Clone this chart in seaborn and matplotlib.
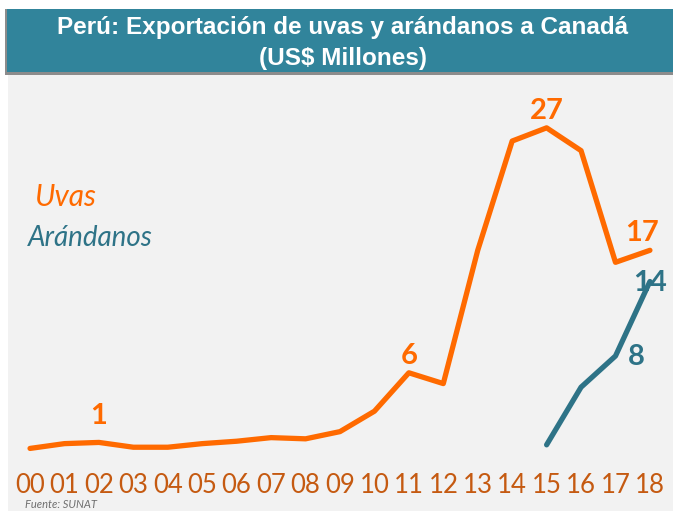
import numpy as np
import pandas as pd
import matplotlib
matplotlib.use("Agg")
import matplotlib.pyplot as plt
from matplotlib.patches import Rectangle
import seaborn as sns

# data (US$ millones)
years = ["00", "01", "02", "03", "04", "05", "06", "07", "08", "09",
         "10", "11", "12", "13", "14", "15", "16", "17", "18"]
uvas = [0.3, 0.7, 0.8, 0.4, 0.4, 0.7, 0.9, 1.2, 1.1, 1.7,
        3.4, 6.6, 5.7, 16.8, 25.9, 27.0, 25.1, 15.8, 16.8]
arandanos_years = ["15", "16", "17", "18"]
arandanos = [0.6, 5.4, 8.0, 14.2]

# point labels
uvas_labels = {"02": "1", "11": "6", "15": "27", "18": "17"}
aran_labels = {"17": "8", "18": "14"}

ORANGE = "#FF6A00"
TEAL = "#2E7387"
BAR = "#31849B"
TICK = "#C55A11"

sns.set_theme(style="white")
plt.rcParams["font.family"] = ["Lato", "DejaVu Sans"]

W, H = 673, 511
fig = plt.figure(figsize=(W / 100, H / 100), dpi=100, facecolor="white")

# gray panel (behind the axes)
fig.patches.append(Rectangle((8 / W, 0), (W - 8) / W, (H - 75) / H,
                             transform=fig.transFigure, facecolor="#F2F2F2",
                             edgecolor="none", zorder=-5))
# title bar with shadow
fig.patches.append(Rectangle((5 / W, (H - 75) / H), (W - 5) / W, 66 / H,
                             transform=fig.transFigure, facecolor="#8C8C8C",
                             edgecolor="none", zorder=1))
fig.patches.append(Rectangle((7 / W, (H - 72) / H), (W - 7) / W, 63 / H,
                             transform=fig.transFigure, facecolor=BAR,
                             edgecolor="none", zorder=2))
title_font = ["Liberation Sans", "DejaVu Sans"]
fig.text(343 / W, 1 - 27 / H, "Perú: Exportación de uvas y arándanos a Canadá",
         ha="center", va="center", color="white", fontsize=17.5,
         fontweight="bold", family=title_font, zorder=3)
fig.text(343 / W, 1 - 58 / H, "(US$ Millones)",
         ha="center", va="center", color="white", fontsize=17.5,
         fontweight="bold", family=title_font, zorder=3)

ax = fig.add_axes([8 / W, (H - 465) / H, (W - 8) / W, (465 - 75) / H])
ax.set_facecolor("none")

df_u = pd.DataFrame({"x": np.arange(len(years)), "v": uvas})
idx_a = [years.index(y) for y in arandanos_years]
df_a = pd.DataFrame({"x": idx_a, "v": arandanos})

sns.lineplot(data=df_u, x="x", y="v", ax=ax, color=ORANGE, linewidth=3.8,
             solid_capstyle="round")
sns.lineplot(data=df_a, x="x", y="v", ax=ax, color=TEAL, linewidth=3.8,
             solid_capstyle="round")

ax.set_xlim(-0.64, 18.67)
ax.set_ylim(-1.08, 31.4)
ax.set_xticks(np.arange(len(years)))
ax.set_xticklabels(years)
ax.set_yticks([])
ax.set_xlabel("")
ax.set_ylabel("")
ax.tick_params(axis="x", length=0, pad=6, labelsize=18.5, labelcolor=TICK)
for s in ax.spines.values():
    s.set_visible(False)

for yr, txt in uvas_labels.items():
    i = years.index(yr)
    dx = -6 if yr == "18" else 0
    dy = 10 if yr == "02" else 3
    ax.annotate(txt, (i, uvas[i]), xytext=(dx, dy), textcoords="offset points",
                ha="center", va="bottom", color=ORANGE, fontsize=21,
                fontweight="bold")
for yr, txt in aran_labels.items():
    i = years.index(yr)
    j = arandanos_years.index(yr)
    off = (0, -1) if yr == "18" else (15, -1)
    ax.annotate(txt, (i, arandanos[j]), xytext=off, textcoords="offset points",
                ha="center", va="center", color=TEAL, fontsize=21,
                fontweight="bold")

fig.text(35 / W, 1 - 197 / H, "Uvas", ha="left", va="center", color=ORANGE,
         fontsize=21.5, style="italic")
fig.text(28 / W, 1 - 238 / H, "Arándanos", ha="left", va="center", color=TEAL,
         fontsize=20, style="italic")
fig.text(25 / W, 1 - 504 / H, "Fuente: SUNAT", ha="left", va="center",
         color="#6E6E6E", fontsize=8, style="italic")

fig.savefig("out.png", dpi=100, facecolor="white")
